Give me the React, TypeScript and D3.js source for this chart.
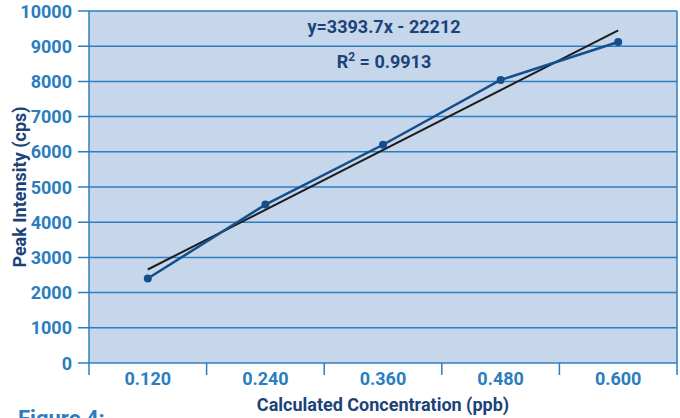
import React from 'react';
import * as d3 from 'd3';

const categories = ['0.120', '0.240', '0.360', '0.480', '0.600'];
const intensity = [2400, 4500, 6200, 8040, 9120];
const yTicks = [0, 1000, 2000, 3000, 4000, 5000, 6000, 7000, 8000, 9000, 10000];
const equationLabel = 'y=3393.7x - 22212';
const r2Value = '0.9913';

const W = 680;
const H = 418;
const margin = { top: 11, right: 3, bottom: 55, left: 89 };
const FONT = '"Liberation Sans Narrow", "Roboto", "Liberation Sans", sans-serif';

const App = () => {
	const x0 = margin.left;
	const x1 = W - margin.right;
	const y0 = H - margin.bottom;
	const y1 = margin.top;

	// band scale for categories, ticks sit on band edges
	const xBand = d3.scaleBand().domain(categories).range([x0, x1]);
	const yScale = d3.scaleLinear().domain([0, 10000]).range([y0, y1]);
	const cx = (c) => xBand(c) + xBand.bandwidth() / 2;

	// linear trend on category index
	const idx = intensity.map((_, i) => i + 1);
	const mx = d3.mean(idx);
	const my = d3.mean(intensity);
	const slope = d3.sum(idx, (v, i) => (v - mx) * (intensity[i] - my)) / d3.sum(idx, v => (v - mx) ** 2);
	const icpt = my - slope * mx;
	const trend = [categories[0], categories[categories.length - 1]].map((c, k) => {
		const xi = k === 0 ? 1 : categories.length;
		return [cx(c), yScale(slope * xi + icpt)];
	});

	const line = d3.line()
		.x((d, i) => cx(categories[i]))
		.y(d => yScale(d));

	const edges = categories.map(c => xBand(c)).concat([x1]);

	return (
		<div style={{ position: 'absolute', left: 0, top: 0 }}>
			<svg width={W} height={H} style={{ display: 'block', fontFamily: FONT }}>
				<rect x={0} y={0} width={W} height={H} fill="#ffffff" />
				<rect x={x0} y={y1} width={x1 - x0} height={y0 - y1} fill="#c6d6eb" />

				{/* grid + y ticks */}
				{yTicks.map(t => (
					<g key={t}>
						<line x1={x0 - 11} x2={x1} y1={yScale(t)} y2={yScale(t)} stroke="#2b7fc1" strokeWidth={1.5} />
						<text x={72} y={yScale(t) + 6.5} textAnchor="end" fontSize={18} fontWeight="bold" fill="#2a7dbf">{t}</text>
					</g>
				))}

				{/* plot frame */}
				<line x1={x0} x2={x0} y1={y1} y2={y0 + 12} stroke="#2b7fc1" strokeWidth={1.5} />
				<line x1={x1} x2={x1} y1={y1} y2={y0 + 12} stroke="#2b7fc1" strokeWidth={1.5} />
				{edges.slice(1, -1).map((e, i) => (
					<line key={i} x1={e} x2={e} y1={y0} y2={y0 + 12} stroke="#2b7fc1" strokeWidth={1.5} />
				))}

				{categories.map(c => (
					<text key={c} x={cx(c)} y={385} textAnchor="middle" fontSize={18} fontWeight="bold" fill="#2a7dbf">{c}</text>
				))}

				{/* trend line */}
				<line x1={trend[0][0]} y1={trend[0][1]} x2={trend[1][0]} y2={trend[1][1]} stroke="#1c1c1c" strokeWidth={2} />

				{/* data */}
				<path d={line(intensity)} fill="none" stroke="#144f8c" strokeWidth={2.5} />
				{intensity.map((v, i) => (
					<circle key={i} cx={cx(categories[i])} cy={yScale(v)} r={4} fill="#144f8c" />
				))}

				<text x={384} y={33} textAnchor="middle" fontSize={18} fontWeight="bold" fill="#1b4379">{equationLabel}</text>
				<text x={384} y={68} textAnchor="middle" fontSize={18} fontWeight="bold" fill="#1b4379">
					R<tspan dy={-7} fontSize={12}>2</tspan><tspan dy={7}> = {r2Value}</tspan>
				</text>

				<text x={383} y={411} textAnchor="middle" fontSize={18} fontWeight="bold" fill="#1b4379">Calculated Concentration (ppb)</text>
				<text transform="translate(26,187) rotate(-90)" textAnchor="middle" fontSize={18} fontWeight="bold" fill="#1b4379">Peak Intensity (cps)</text>

				<text x={18} y={426} fontSize={22} fontWeight="bold" fill="#2a7dbf">Figure 4:</text>
			</svg>
		</div>
	);
};

export default App;
